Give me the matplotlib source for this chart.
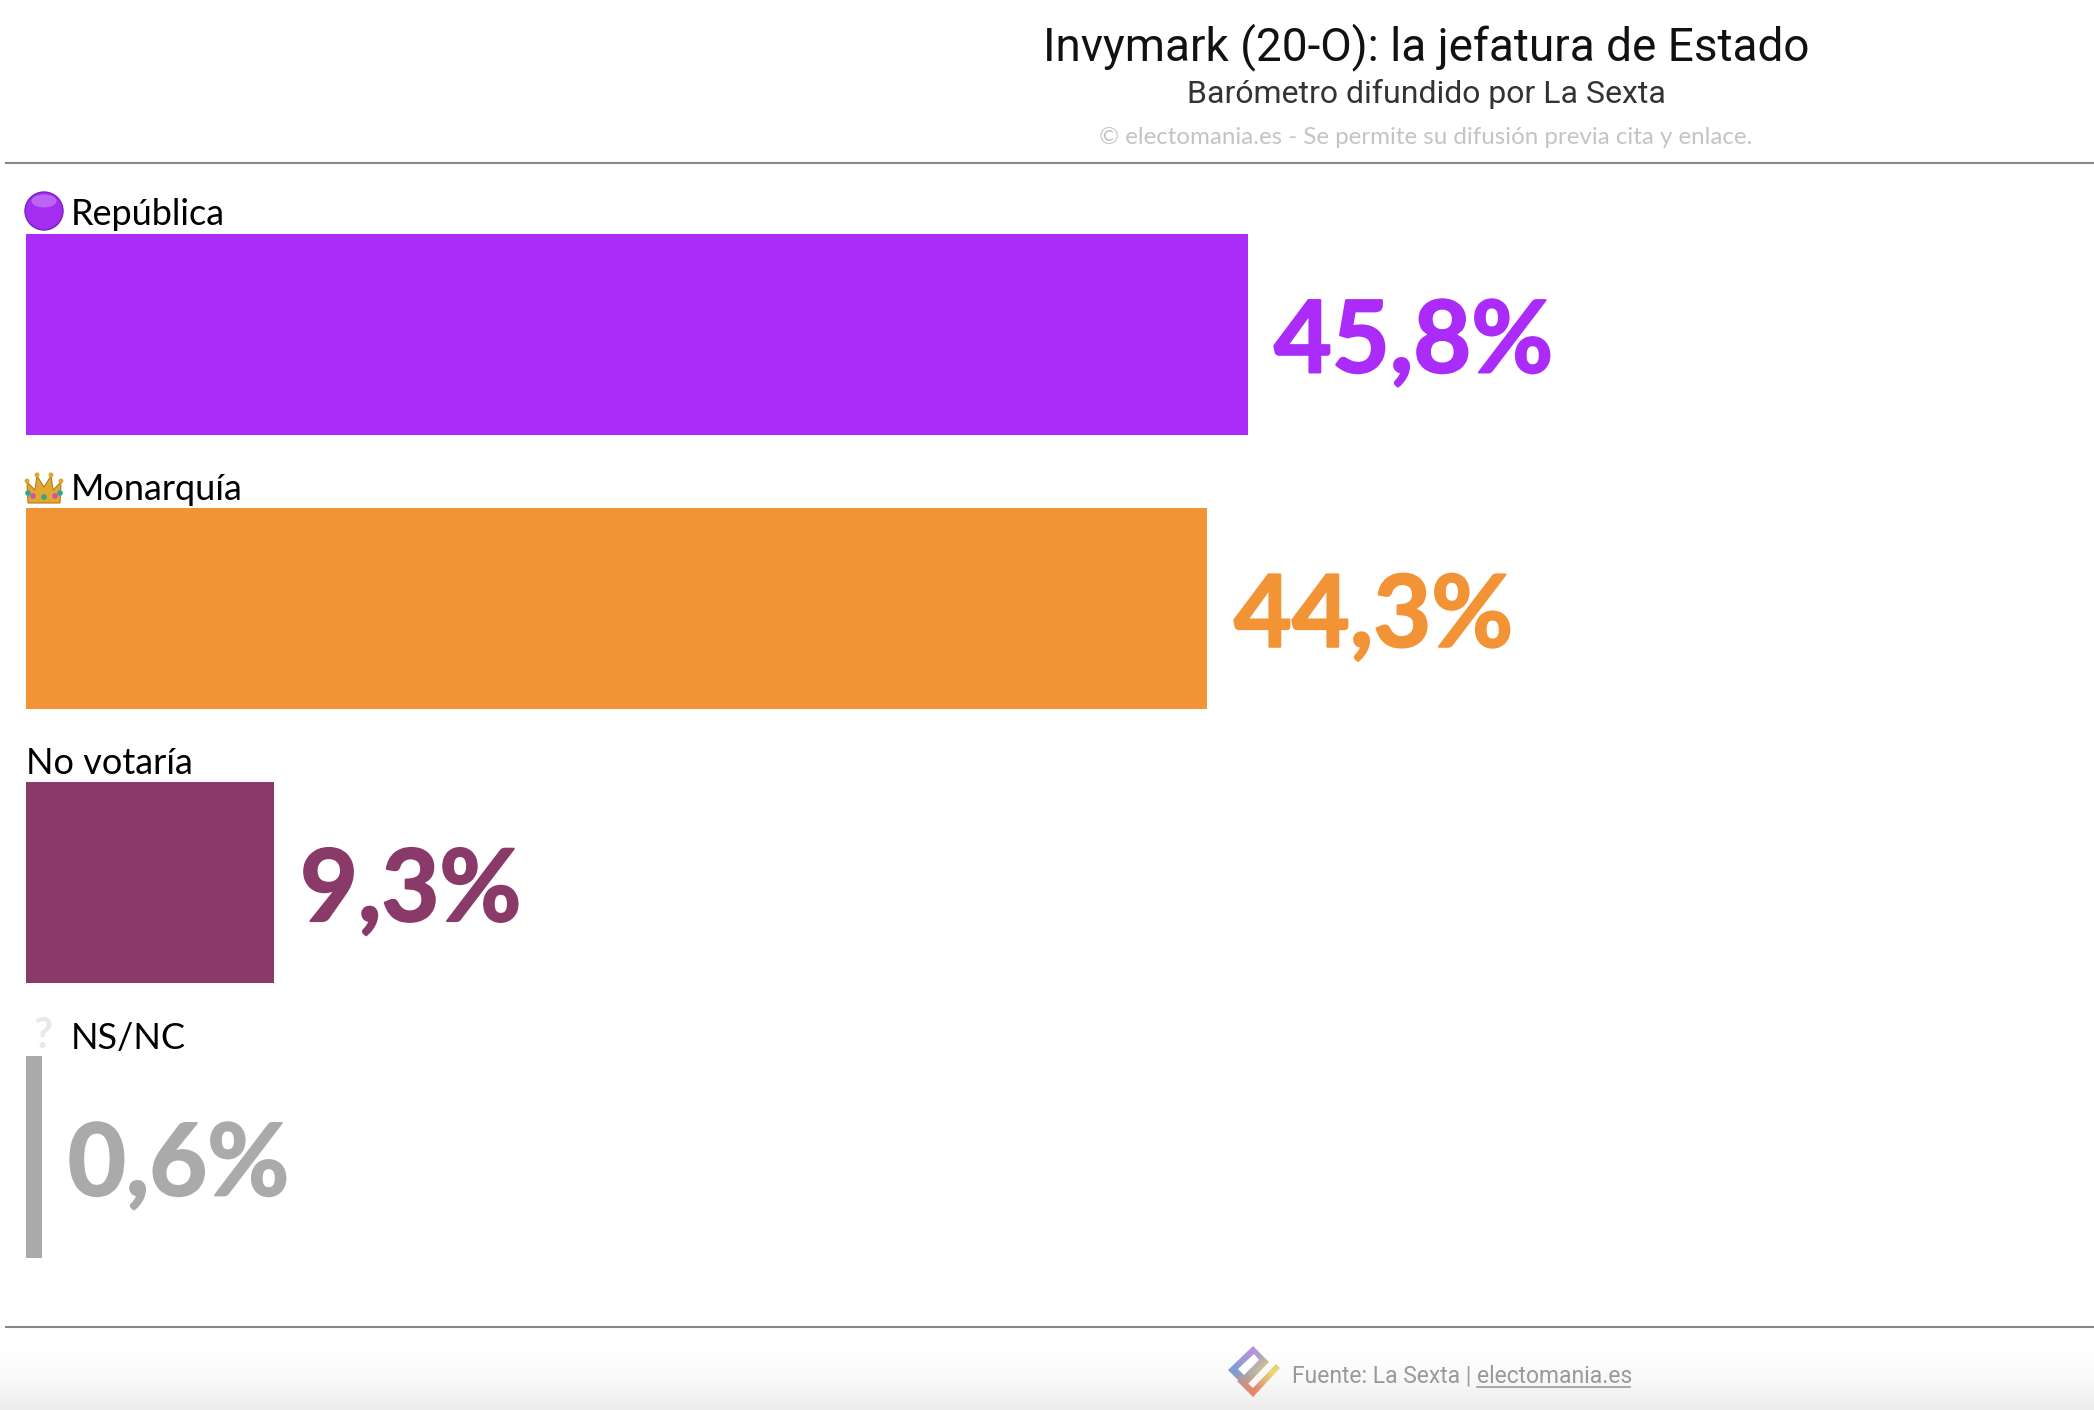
import numpy as np
import matplotlib
matplotlib.use('Agg')
import matplotlib.pyplot as plt
import matplotlib.patheffects as pe
from matplotlib.patches import Circle, Ellipse, Polygon, PathPatch
from matplotlib.path import Path

W, H = 2094, 1410

categorias = ['República', 'Monarquía', 'No votaría', 'NS/NC']
valores = [45.8, 44.3, 9.3, 0.6]
etiquetas = ['45,8%', '44,3%', '9,3%', '0,6%']
colores = ['#AB2BF9', '#F29336', '#8A3A68', '#AAAAAA']

titulo = 'Invymark (20-O): la jefatura de Estado'
subtitulo = 'Barómetro difundido por La Sexta'
aviso = '© electomania.es - Se permite su difusión previa cita y enlace.'
fuente = 'Fuente: La Sexta | '
web = 'electomania.es'

fig = plt.figure(figsize=(W / 100, H / 100), dpi=100, facecolor='white')

# capa en pixeles para reglas, iconos y textos
bg = fig.add_axes([0, 0, 1, 1], zorder=2)
bg.axis('off')

# degradado del pie
grad = (1 - 0.075 * np.linspace(0, 1, 83) ** 2)[:, None]
bg.imshow(grad, extent=[0, W, 1410, 1327], cmap='gray', vmin=0, vmax=1, aspect='auto', zorder=0)

bg.plot([6, W], [163, 163], color='#888888', lw=1.5, zorder=2)
bg.plot([6, W], [1327, 1327], color='#888888', lw=1.5, zorder=2)

bg.text(1426, 60, titulo, family='Roboto', fontsize=33, color='#111111', ha='center', va='baseline')
bg.text(1426, 103, subtitulo, family='Roboto', fontsize=23, color='#333333', ha='center', va='baseline')
bg.text(1426, 144, aviso, family='Lato', fontsize=17.4, color='#C4C4C4', ha='center', va='baseline')

# barras
ax = fig.add_axes([25.5 / W, 1 - 1257.5 / H, 1222 / 45.8 * 50 / W, 1024 / H], zorder=1)
ax.axis('off')
y = np.arange(len(valores))
ax.barh(y, valores, height=0.733, color=colores)
ax.set_xlim(0, 50)
ax.set_ylim(3.3665, -0.3665)

for i, (v, e, c) in enumerate(zip(valores, etiquetas, colores)):
    ax.annotate(e, (v, i), xytext=(19, -1), textcoords='offset points', family='Lato',
                fontweight='bold', fontsize=72, color=c, ha='left', va='center_baseline',
                path_effects=[pe.withStroke(linewidth=1.5, foreground=c)])

# etiquetas de categoria
xlab = [71, 71, 26, 71]
ylab = [225, 500, 774, 1049]
for n, xl, yl in zip(categorias, xlab, ylab):
    bg.text(xl, yl, n, family='Lato', fontsize=26, color='#000000', ha='left', va='baseline')

# icono republica
bg.add_patch(Circle((44, 211), 19, fc='#A52DF0', ec='#7A1FC0', lw=1, zorder=3))
bg.add_patch(Ellipse((44, 201), 25, 13, fc='#D9A8FA', ec='none', alpha=0.45, zorder=4))

# icono corona
bg.add_patch(Polygon([(28, 503), (27, 482), (35, 490), (37, 476), (44, 487), (51, 476), (53, 490), (61, 482), (60, 503)],
                     closed=True, fc='#E3A72F', ec='#B07A1C', lw=0.8, zorder=3))
for cx, cy, cc in [(28, 493, '#2FA58E'), (33, 496, '#D04FB0'), (44, 497, '#2FA58E'), (55, 496, '#D04FB0'), (60, 493, '#2FA58E')]:
    bg.add_patch(Circle((cx, cy), 2.8, fc=cc, ec='none', zorder=4))
for cx, cy in [(27, 481), (37, 475), (51, 475), (61, 481)]:
    bg.add_patch(Circle((cx, cy), 2.5, fc='#E3A72F', ec='none', zorder=4))

# icono interrogacion
bg.text(43, 1048, '?', family='Lato', fontsize=30, color='#E8E8E8', ha='center', va='baseline', fontweight='bold')

# logo
corners = np.array([[[0.62, 0.58, 0.88], [0.70, 0.58, 0.88], [0.66, 0.75, 0.55]],
                    [[0.48, 0.62, 0.85], [0.72, 0.72, 0.62], [0.96, 0.84, 0.45]],
                    [[0.85, 0.55, 0.50], [0.90, 0.52, 0.40], [0.94, 0.70, 0.42]]])
logo = bg.imshow(corners, extent=[1227, 1282, 1398, 1345], interpolation='bilinear', aspect='auto', zorder=3)
verts = [(1253, 1346), (1269, 1362), (1245, 1387), (1228, 1370), (1253, 1346),
         (1280, 1368), (1253, 1397), (1237, 1381), (1242, 1378), (1253, 1388), (1276, 1364), (1280, 1368)]
codes = [Path.MOVETO] + [Path.LINETO] * 3 + [Path.CLOSEPOLY] + [Path.MOVETO] + [Path.LINETO] * 5 + [Path.CLOSEPOLY]
clip = PathPatch(Path(verts, codes), transform=bg.transData, fc='none', ec='none')
bg.add_patch(clip)
logo.set_clip_path(clip)
bg.add_patch(Polygon([(1254, 1354), (1259, 1360), (1244, 1375), (1238, 1369)], closed=True, fc='white', ec='none', zorder=4))

# pie
bg.text(1292, 1383, fuente, family='Roboto', fontsize=16.5, color='#999999', ha='left', va='baseline')
bg.text(1477, 1383, web, family='Roboto', fontsize=16.5, color='#999999', ha='left', va='baseline')
bg.plot([1477, 1630], [1387, 1387], color='#999999', lw=1.2, zorder=3)

bg.set_xlim(0, W)
bg.set_ylim(H, 0)

fig.savefig('out.png', dpi=100)
